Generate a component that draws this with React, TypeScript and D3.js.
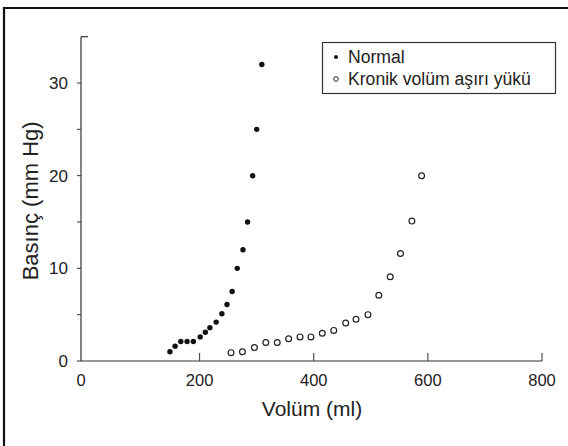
import React from 'react';
import * as d3 from 'd3';

// Normal ventricle: volume (ml) vs pressure (mm Hg)
const normalVolume = [148, 157, 167, 178, 189, 201, 210, 218, 229, 239, 248, 257, 266, 276, 284, 293, 300, 309];
const normalPressure = [1, 1.6, 2.1, 2.1, 2.1, 2.6, 3.1, 3.6, 4.2, 5.1, 6.1, 7.5, 10, 12, 15, 20, 25, 32];

// Chronic volume overload
const chronicVolume = [255, 275, 296, 316, 336, 356, 376, 395, 415, 435, 456, 474, 495, 514, 534, 552, 572, 589];
const chronicPressure = [0.9, 1, 1.45, 2, 2, 2.4, 2.6, 2.6, 3, 3.3, 4.1, 4.5, 5, 7.1, 9.1, 11.6, 15.1, 20];

const xTicks = [0, 200, 400, 600, 800];
const yLabelTicks = [0, 10, 20, 30];
const yMinorTicks = [5, 15, 25];

const legendLabels = ['Normal', 'Kronik volüm aşırı yükü'];

const font = '"Liberation Sans", Arial, Helvetica, sans-serif';

const App = () => {
  const width = 568;
  const height = 446;
  const axisX = 81;

  const x = d3.scaleLinear().domain([0, 800]).range([85.5, 542]);
  const y = d3.scaleLinear().domain([0, 35]).range([361, 36.7]);

  const normal = normalVolume.map((v, i) => ({ v, p: normalPressure[i] }));
  const chronic = chronicVolume.map((v, i) => ({ v, p: chronicPressure[i] }));

  const stroke = '#333';

  return (
    <svg
      width={width}
      height={height}
      style={{ position: 'absolute', left: 0, top: 0, background: '#fff' }}
      fontFamily={font}
    >
      {/* outer frame (left and top visible) */}
      <path d={`M4,${height} V8 H${width}`} fill="none" stroke="#111" strokeWidth={2.2} />

      {/* y axis */}
      <line x1={axisX} x2={axisX} y1={y(35)} y2={y(0)} stroke={stroke} strokeWidth={1.2} />
      <line x1={axisX} x2={axisX + 7} y1={y(35)} y2={y(35)} stroke={stroke} strokeWidth={1.2} />
      {[...yLabelTicks, ...yMinorTicks].map((t) => (
        <line key={`yt${t}`} x1={axisX - 4} x2={axisX} y1={y(t)} y2={y(t)} stroke={stroke} strokeWidth={1} />
      ))}
      {yLabelTicks.map((t) => (
        <text key={`yl${t}`} x={68} y={y(t)} dy="0.36em" textAnchor="end" fontSize={17} fill="#222">
          {t}
        </text>
      ))}

      {/* x axis */}
      <line x1={axisX} x2={x(800)} y1={y(0)} y2={y(0)} stroke={stroke} strokeWidth={1.2} />
      {xTicks.slice(1).map((t) => (
        <line key={`xt${t}`} x1={x(t)} x2={x(t)} y1={y(0)} y2={y(0) - 8} stroke={stroke} strokeWidth={1} />
      ))}
      {xTicks.map((t) => (
        <text key={`xl${t}`} x={t === 0 ? axisX : x(t)} y={386} textAnchor="middle" fontSize={16.5} fill="#222">
          {t}
        </text>
      ))}

      {/* axis titles */}
      <text x={312} y={416} textAnchor="middle" fontSize={21} fill="#222">
        Volüm (ml)
      </text>
      <text
        transform={`translate(38,${(y(0) + y(35)) / 2 + 2}) rotate(-90)`}
        textAnchor="middle"
        fontSize={22}
        fill="#222"
      >
        Basınç (mm Hg)
      </text>

      {/* data */}
      {normal.map((d, i) => (
        <circle key={`n${i}`} cx={x(d.v)} cy={y(d.p)} r={2.7} fill="#111" />
      ))}
      {chronic.map((d, i) => (
        <circle key={`c${i}`} cx={x(d.v)} cy={y(d.p)} r={2.9} fill="#fff" stroke="#222" strokeWidth={1.2} />
      ))}

      {/* legend */}
      <rect x={322.5} y={42.5} width={233} height={51} fill="#fff" stroke={stroke} strokeWidth={1.2} />
      <circle cx={336} cy={57} r={2} fill="#111" />
      <circle cx={336} cy={79} r={2.3} fill="#fff" stroke="#222" strokeWidth={1} />
      {legendLabels.map((l, i) => (
        <text key={l} x={348} y={63 + i * 22} fontSize={17.6} fill="#222">
          {l}
        </text>
      ))}
    </svg>
  );
};

export default App;
